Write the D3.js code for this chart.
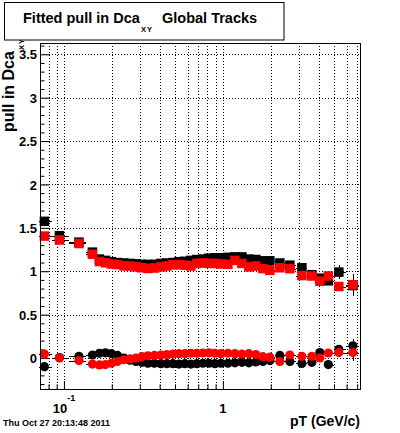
<!DOCTYPE html>
<html><head><meta charset="utf-8">
<script src="https://cdn.jsdelivr.net/npm/d3@7"></script>
<style>
body{margin:0;background:#fff}
svg{display:block}
text{font-family:"Liberation Sans",Arial,Helvetica,sans-serif;font-weight:bold;fill:#000}
</style>
</head><body>
<svg id="c" width="400" height="433"></svg>
<script>
// ---- data ----
const ptCenters = [0.0754,0.0937,0.1243,0.1511,0.1672,0.1824,0.1989,0.2170,0.2384,0.2601,
  0.2837,0.3094,0.3375,0.3708,0.4074,0.4444,0.4848,0.5287,0.5768,0.6292,
  0.6863,0.7486,0.8167,0.8906,0.9714,1.075,1.190,1.317,1.457,1.612,
  1.785,1.975,2.283,2.639,3.140,3.629,4.075,4.608,5.365,6.573];
const firstEdge = 0.07;
const lastEdge = 7.2;

const sigmaBlack = [1.575,1.41,1.335,1.22,1.14,1.125,1.11,1.10,1.095,1.09,
  1.085,1.08,1.078,1.08,1.09,1.095,1.10,1.11,1.115,1.125,
  1.135,1.14,1.15,1.155,1.155,1.16,1.165,1.165,1.14,1.135,
  1.12,1.12,1.095,1.07,1.04,0.96,0.92,0.89,0.99,0.835];
const sigmaBlackErr = [0.02,0.015,0.015,0.01,0.01,0.01,0.01,0.01,0.01,0.01,
  0.01,0.01,0.01,0.01,0.01,0.01,0.01,0.01,0.01,0.01,
  0.01,0.01,0.01,0.01,0.01,0.012,0.012,0.015,0.015,0.015,
  0.02,0.02,0.02,0.025,0.03,0.03,0.04,0.04,0.08,0.125];

const sigmaRed = [1.405,1.36,1.32,1.196,1.112,1.098,1.083,1.077,1.062,1.06,
  1.05,1.04,1.032,1.037,1.05,1.06,1.075,1.075,1.07,1.06,
  1.09,1.095,1.09,1.09,1.083,1.08,1.125,1.09,1.05,1.06,
  1.03,1.01,1.04,1.03,0.95,0.945,0.885,0.945,0.824,0.845];
const sigmaRedErr = [0.02,0.015,0.015,0.01,0.01,0.01,0.01,0.01,0.01,0.01,
  0.01,0.01,0.01,0.01,0.01,0.01,0.01,0.01,0.01,0.01,
  0.01,0.01,0.01,0.01,0.01,0.012,0.012,0.015,0.015,0.015,
  0.02,0.02,0.02,0.025,0.03,0.03,0.04,0.04,0.05,0.12];

const meanBlack = [-0.10,0.005,0.02,0.035,0.055,0.06,0.05,0.03,0.0,-0.025,
  -0.04,-0.05,-0.06,-0.06,-0.065,-0.065,-0.065,-0.07,-0.065,-0.07,
  -0.065,-0.06,-0.06,-0.065,-0.06,-0.06,-0.055,-0.05,-0.055,-0.045,
  -0.04,-0.03,0.03,-0.04,-0.063,-0.05,0.063,-0.075,0.10,0.14];
const meanBlackErr = [0.02,0.015,0.01,0.01,0.01,0.01,0.01,0.01,0.01,0.01,
  0.01,0.01,0.01,0.01,0.01,0.01,0.01,0.01,0.01,0.01,
  0.01,0.01,0.01,0.01,0.01,0.01,0.01,0.012,0.012,0.015,
  0.015,0.015,0.02,0.02,0.025,0.03,0.03,0.035,0.05,0.08];

const meanRed = [0.046,0.0,-0.03,-0.07,-0.08,-0.075,-0.06,-0.04,-0.02,-0.01,
  0.0,0.015,0.025,0.03,0.035,0.04,0.045,0.05,0.05,0.055,
  0.055,0.058,0.06,0.055,0.05,0.055,0.05,0.045,0.05,0.04,
  0.015,0.01,-0.04,0.035,0.02,0.02,0.0,0.058,0.063,0.063];
const meanRedErr = [0.02,0.015,0.01,0.01,0.01,0.01,0.01,0.01,0.01,0.01,
  0.01,0.01,0.01,0.01,0.01,0.01,0.01,0.01,0.01,0.01,
  0.01,0.01,0.01,0.01,0.01,0.01,0.01,0.012,0.012,0.015,
  0.015,0.015,0.02,0.02,0.025,0.03,0.03,0.035,0.04,0.10];

const yMajorTicks = [0,0.5,1,1.5,2,2.5,3,3.5];
const yMajorLabels = ["0","0.5","1","1.5","2","2.5","3","3.5"];
const yMinorTicks = [-0.3,-0.2,-0.1,0.1,0.2,0.3,0.4,0.6,0.7,0.8,0.9,1.1,1.2,1.3,1.4,1.6,1.7,1.8,1.9,
  2.1,2.2,2.3,2.4,2.6,2.7,2.8,2.9,3.1,3.2,3.3,3.4,3.6];
const xMajorTicks = [0.1,1];
const xMinorTicks = [0.08,0.09,0.2,0.3,0.4,0.5,0.6,0.7,0.8,0.9,2,3,4,5,6,7];
const xLabelBase = ["10","1"];
const xLabelExp = ["-1",""];

const titleMain = "Fitted pull in Dca";
const titleSub = "XY";
const titleRest = "Global Tracks";
const yTitle = "pull in Dca";
const yTitleSub = "XY";
const xTitle = "pT (GeV/c)";
const dateText = "Thu Oct 27 20:13:48 2011";

// ---- layout ----
const L = 40, R = 360, T = 43, B = 389;
const svg = d3.select("#c");
svg.append("rect").attr("x",0).attr("y",0).attr("width",400).attr("height",433).attr("fill","#fff");

const x = d3.scaleLog().domain([0.0707, 7.29]).range([L, R]);
const y = d3.scaleLinear().domain([-0.357, 3.63]).range([B, T]);

// grid
const grid = svg.append("g").attr("stroke","#000").attr("stroke-width",1).attr("stroke-dasharray","1,2").attr("shape-rendering","crispEdges");
xMajorTicks.concat(xMinorTicks).forEach(v=>{
  const px = Math.round(x(v))+0.5;
  grid.append("line").attr("x1",px).attr("x2",px).attr("y1",T).attr("y2",B);
});
yMajorTicks.forEach(v=>{
  const py = Math.round(y(v))+0.5;
  grid.append("line").attr("x1",L).attr("x2",R).attr("y1",py).attr("y2",py);
});

// axes ticks
const yAxMaj = d3.axisLeft(y).tickValues(yMajorTicks).tickSize(-9).tickPadding(3)
  .tickFormat((d,i)=>yMajorLabels[i]);
const gyM = svg.append("g").attr("transform",`translate(${L},0)`).call(yAxMaj);
gyM.select(".domain").remove();
gyM.selectAll("text").attr("font-size",13).attr("font-family",null).attr("font-weight","bold").attr("fill","#000").attr("dy","0.36em");
gyM.selectAll("line").attr("stroke","#000");
const gym = svg.append("g").attr("transform",`translate(${L},0)`).call(d3.axisLeft(y).tickValues(yMinorTicks).tickSize(-4.5).tickFormat(""));
gym.select(".domain").remove();
gym.selectAll("line").attr("stroke","#000");

const gxM = svg.append("g").attr("transform",`translate(0,${B})`).call(d3.axisBottom(x).tickValues(xMajorTicks).tickSize(-8).tickFormat(""));
gxM.select(".domain").remove();
gxM.selectAll("line").attr("stroke","#000");
const gxm = svg.append("g").attr("transform",`translate(0,${B})`).call(d3.axisBottom(x).tickValues(xMinorTicks).tickSize(-4.7).tickFormat(""));
gxm.select(".domain").remove();
gxm.selectAll("line").attr("stroke","#000");

// x labels
xMajorTicks.forEach((v,i)=>{
  const t = svg.append("text").attr("x",x(v)).attr("y",412.5).attr("text-anchor","middle").attr("font-size",13);
  t.append("tspan").text(xLabelBase[i]);
  if (xLabelExp[i]) t.append("tspan").attr("dy",-12).attr("font-size",9).text(xLabelExp[i]);
});

// ---- data marks ----
const n = ptCenters.length;
const lo = ptCenters.map((c,i)=> i===0 ? firstEdge : Math.sqrt(ptCenters[i-1]*c));
const hi = ptCenters.map((c,i)=> i===n-1 ? lastEdge : Math.sqrt(ptCenters[i+1]*c));

function drawSeries(vals, errs, color, shape){
  const g = svg.append("g");
  const eb = g.append("g").attr("stroke","#000").attr("stroke-width",1).attr("shape-rendering","crispEdges");
  vals.forEach((v,i)=>{
    const py = Math.round(y(v))+0.5;
    const px = Math.round(x(ptCenters[i]))+0.5;
    eb.append("line").attr("x1",x(lo[i])).attr("x2",x(hi[i])).attr("y1",py).attr("y2",py);
    eb.append("line").attr("x1",px).attr("x2",px).attr("y1",y(v-errs[i])).attr("y2",y(v+errs[i]));
  });
  if (shape==="square"){
    g.selectAll("rect.m").data(vals).join("rect").attr("class","m")
      .attr("x",(d,i)=>x(ptCenters[i])-4.75).attr("y",d=>y(d)-4.75)
      .attr("width",9.5).attr("height",9.5).attr("fill",color);
  } else {
    g.selectAll("circle.m").data(vals).join("circle").attr("class","m")
      .attr("cx",(d,i)=>x(ptCenters[i])).attr("cy",d=>y(d)).attr("r",4.6).attr("fill",color);
  }
}
drawSeries(sigmaBlack, sigmaBlackErr, "#000", "square");
drawSeries(meanBlack, meanBlackErr, "#000", "circle");
drawSeries(sigmaRed, sigmaRedErr, "#ff0000", "square");
drawSeries(meanRed, meanRedErr, "#ff0000", "circle");

// frame
svg.append("rect").attr("x",L+0.5).attr("y",T+0.5).attr("width",R-L).attr("height",B-T)
  .attr("fill","none").attr("stroke","#000").attr("stroke-width",1);

// y title
const yt = svg.append("text").attr("transform","translate(14,132) rotate(-90)").attr("font-size",16);
yt.append("tspan").text(yTitle);
yt.append("tspan").attr("dy",9.5).attr("dx",1).attr("font-size",7.5).attr("letter-spacing",1).text(yTitleSub);

// x title
svg.append("text").attr("x",360).attr("y",426).attr("text-anchor","end").attr("font-size",14).text(xTitle);

// date
svg.append("text").attr("x",3).attr("y",425.7).attr("font-size",9).text(dateText);

// title box
svg.append("rect").attr("x",4.5).attr("y",2.5).attr("width",279.5).attr("height",37.5)
  .attr("fill","#fff").attr("stroke","#000").attr("stroke-width",1);
svg.append("text").attr("x",23).attr("y",22.5).attr("font-size",14.5).text(titleMain);
svg.append("text").attr("x",141).attr("y",32).attr("font-size",7.5).attr("letter-spacing",1).text(titleSub);
svg.append("text").attr("x",162).attr("y",22.5).attr("font-size",14.5).text(titleRest);
</script>
</body></html>
